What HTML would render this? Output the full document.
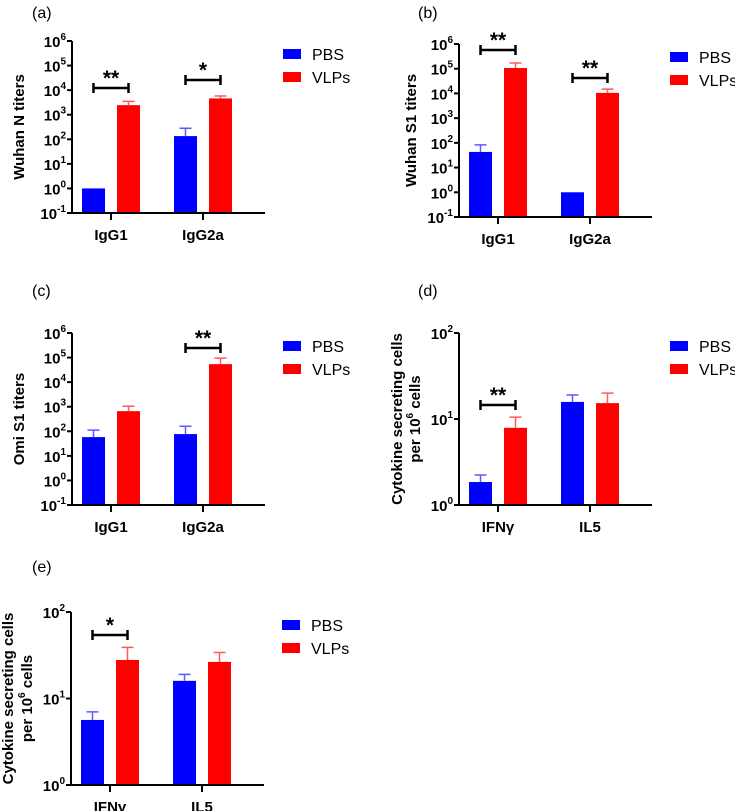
<!DOCTYPE html>
<html><head><meta charset="utf-8"><style>
body{margin:0;background:#fff}
svg{display:block;font-family:"Liberation Sans",Arial,sans-serif}
</style></head><body>
<svg id="c" width="735" height="811" viewBox="0 0 735 811"></svg>
<script>
const categoriesIg = ["IgG1","IgG2a"];
const categoriesCk = ["IFNγ","IL5"];
const seriesNames = ["PBS","VLPs"];
const aPBS = [1, 135], aPBSerr = [1, 280], aVLP = [2450, 4600], aVLPerr = [3500, 5800];
const bPBS = [43, 1], bPBSerr = [83, 1], bVLP = [107000, 10500], bVLPerr = [170000, 15000];
const cPBS = [58, 77], cPBSerr = [112, 160], cVLP = [660, 54000], cVLPerr = [1050, 95000];
const dPBS = [1.85, 15.8], dPBSerr = [2.23, 19], dVLP = [7.9, 15.3], dVLPerr = [10.5, 20];
const ePBS = [5.65, 16], ePBSerr = [7.0, 19], eVLP = [27.9, 26.5], eVLPerr = [39, 34];
const titerTicks = [-1,0,1,2,3,4,5,6];
const cellTicks = [0,1,2];
const aSig = ["**","*"], bSig = ["**","**"], cSig = ["","**"], dSig = ["**",""], eSig = ["*",""];

const NS="http://www.w3.org/2000/svg";
const svg=document.getElementById('c');
function mk(tag,attrs,parent){const e=document.createElementNS(NS,tag);for(const k in attrs)e.setAttribute(k,attrs[k]);(parent||svg).appendChild(e);return e;}

const panels=[
 {id:'a',ax:72,top:41,bot:213,lab:[32,18],cats:categoriesIg,ticks:titerTicks,pbs:aPBS,pe:aPBSerr,vlp:aVLP,ve:aVLPerr,sig:aSig,sigY:[88,80],title:["Wuhan N titers"],tx:[20]},
 {id:'b',ax:459,top:44,bot:217,lab:[418,18],cats:categoriesIg,ticks:titerTicks,pbs:bPBS,pe:bPBSerr,vlp:bVLP,ve:bVLPerr,sig:bSig,sigY:[50,78],title:["Wuhan S1 titers"],tx:[412]},
 {id:'c',ax:72,top:333,bot:505,lab:[32,296],cats:categoriesIg,ticks:titerTicks,pbs:cPBS,pe:cPBSerr,vlp:cVLP,ve:cVLPerr,sig:cSig,sigY:[0,348],title:["Omi S1 titers"],tx:[20]},
 {id:'d',ax:459,top:333,bot:505,lab:[418,296],cats:categoriesCk,ticks:cellTicks,pbs:dPBS,pe:dPBSerr,vlp:dVLP,ve:dVLPerr,sig:dSig,sigY:[405,0],title:["Cytokine secreting cells","per 10"],tx:[398,416]},
 {id:'e',ax:71,top:612,bot:785,lab:[32,572],cats:categoriesCk,ticks:cellTicks,pbs:ePBS,pe:ePBSerr,vlp:eVLP,ve:eVLPerr,sig:eSig,sigY:[635,0],title:["Cytokine secreting cells","per 10"],tx:[9,28]},
];

panels.forEach(p=>{
 const g=mk('g',{});
 
 
 const lo=p.ticks[0],hi=p.ticks[p.ticks.length-1];
 const y=v=>p.bot-(Math.log10(v)-lo)/(hi-lo)*(p.bot-p.top);
 const ax=p.ax, xend=ax+193;
 const lab=mk('text',{x:p.lab[0],y:p.lab[1],'font-size':16,fill:'#000'},g);lab.textContent='('+p.id+')';
 
 const offs=[[10,45],[102,137]];
 [0,1].forEach(i=>{
  [[p.pbs,p.pe,'#0000ff','#5a5aff'],[p.vlp,p.ve,'#ff0000','#ff5a5a']].forEach((s,j)=>{
   const x=ax+offs[i][j], yt=y(s[0][i]);
   const r=mk('rect',{x:x,y:yt,width:23,height:p.bot-yt,fill:s[2]},g);
   
   
   const ye=y(s[1][i]);
   if(ye<yt-0.5){
    const e=mk('path',{d:`M${x+11.5},${yt}V${ye}M${x+5.5},${ye}H${x+17.5}`,stroke:s[3],'stroke-width':1.5,fill:'none'},g);
    
   }
  });
  if(p.sig[i]){
   const x1=ax+offs[i][0]+11.5,x2=ax+offs[i][1]+11.5,sy=p.sigY[i];
   const b=mk('path',{d:`M${x1},${sy-5}V${sy+5}M${x1},${sy}H${x2}M${x2},${sy-5}V${sy+5}`,stroke:'#000','stroke-width':2.5,fill:'none'},g);
   
   const t=mk('text',{x:(x1+x2)/2,y:sy-3,'text-anchor':'middle','font-size':21,'font-weight':'bold'},g);t.textContent=p.sig[i];
   
  }
  const cx=ax+(offs[i][0]+offs[i][1])/2+11.5;
  mk('path',{d:`M${cx},${p.bot}V${p.bot+7}`,stroke:'#000','stroke-width':2},g);
  const ct=mk('text',{x:cx,y:p.bot+27,'text-anchor':'middle','font-size':15,'font-weight':'bold'},g);ct.textContent=p.cats[i];
  
 });
 const axes=mk('path',{d:`M${ax},${p.top}V${p.bot}H${xend}`,stroke:'#000','stroke-width':2,fill:'none'},g);
 
 p.ticks.forEach(t=>{
  const ty=y(Math.pow(10,t));
  mk('path',{d:`M${ax-5},${ty}H${ax}`,stroke:'#000','stroke-width':2},g);
  const tl=mk('text',{x:ax-6,y:ty+6,'text-anchor':'end','font-size':15,'font-weight':'bold'},g);
  
  const t1=mk('tspan',{},tl);t1.textContent='10';
  const t2=mk('tspan',{dy:-7,'font-size':10},tl);t2.textContent=String(t);
 });
 const cy=(p.top+p.bot)/2;
 p.title.forEach((s,k)=>{
  const tt=mk('text',{x:p.tx[k],y:cy,'text-anchor':'middle','font-size':15,'font-weight':'bold',transform:`rotate(-90 ${p.tx[k]} ${cy})`,'dominant-baseline':'middle'},g);
  
  if(k==1){const a=mk('tspan',{},tt);a.textContent='per 10';const b=mk('tspan',{dy:-6,'font-size':10},tt);b.textContent='6';const c=mk('tspan',{dy:6},tt);c.textContent=' cells';}
  else tt.textContent=s;
 });
 seriesNames.forEach((n,j)=>{
  const ly=p.top+8+j*23;
  const r=mk('rect',{x:ax+211,y:ly,width:18,height:10,fill:j?'#ff0000':'#0000ff'},g);
  
  const t=mk('text',{x:ax+240,y:ly+11,'font-size':16},g);t.textContent=n;
  
 });
});
</script>
</body></html>
